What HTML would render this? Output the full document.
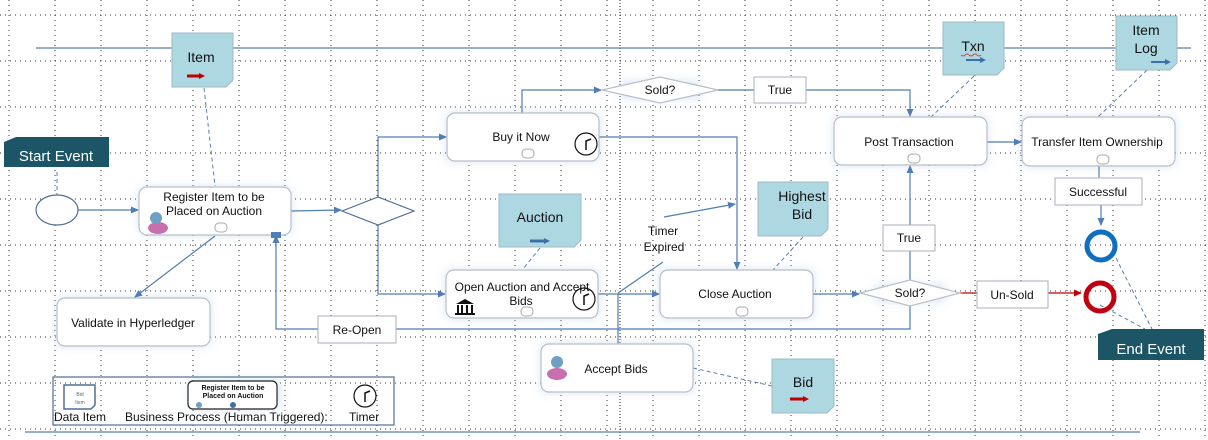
<!DOCTYPE html>
<html><head><meta charset="utf-8"><style>
html,body{margin:0;padding:0;background:#fff}
svg{display:block}
text{font-family:"Liberation Sans",sans-serif;fill:#111}
</style></head><body>
<svg width="1208" height="440" viewBox="0 0 1208 440" xmlns="http://www.w3.org/2000/svg">
<defs>
<filter id="glow" x="-20%" y="-40%" width="140%" height="180%"><feGaussianBlur stdDeviation="5"/></filter>
<marker id="ar" markerWidth="8" markerHeight="8" refX="7" refY="4" orient="auto" markerUnits="userSpaceOnUse"><path d="M0,0.5 L8,4 L0,7.5 z" fill="#4f7db5"/></marker>
<marker id="arr" markerWidth="8" markerHeight="8" refX="7" refY="4" orient="auto" markerUnits="userSpaceOnUse"><path d="M0,0.5 L8,4 L0,7.5 z" fill="#c00000"/></marker>
<marker id="nr" markerWidth="6" markerHeight="6" refX="3" refY="3" orient="auto" markerUnits="userSpaceOnUse"><path d="M0,0 L6,3 L0,6 z" fill="#c00000"/></marker>
<marker id="nb" markerWidth="6" markerHeight="6" refX="3" refY="3" orient="auto" markerUnits="userSpaceOnUse"><path d="M0,0 L6,3 L0,6 z" fill="#3e6fa8"/></marker>
</defs>
<g stroke="#333" stroke-width="1" stroke-dasharray="1 4">
<line x1="9" y1="0" x2="9" y2="440"/><line x1="55" y1="0" x2="55" y2="440"/><line x1="101" y1="0" x2="101" y2="440"/><line x1="147" y1="0" x2="147" y2="440"/><line x1="193" y1="0" x2="193" y2="440"/><line x1="239" y1="0" x2="239" y2="440"/><line x1="285" y1="0" x2="285" y2="440"/><line x1="331" y1="0" x2="331" y2="440"/><line x1="377" y1="0" x2="377" y2="440"/><line x1="423" y1="0" x2="423" y2="440"/><line x1="469" y1="0" x2="469" y2="440"/><line x1="515" y1="0" x2="515" y2="440"/><line x1="561" y1="0" x2="561" y2="440"/><line x1="607" y1="0" x2="607" y2="440"/><line x1="653" y1="0" x2="653" y2="440"/><line x1="699" y1="0" x2="699" y2="440"/><line x1="745" y1="0" x2="745" y2="440"/><line x1="791" y1="0" x2="791" y2="440"/><line x1="837" y1="0" x2="837" y2="440"/><line x1="883" y1="0" x2="883" y2="440"/><line x1="929" y1="0" x2="929" y2="440"/><line x1="975" y1="0" x2="975" y2="440"/><line x1="1021" y1="0" x2="1021" y2="440"/><line x1="1067" y1="0" x2="1067" y2="440"/><line x1="1113" y1="0" x2="1113" y2="440"/><line x1="1159" y1="0" x2="1159" y2="440"/><line x1="1205" y1="0" x2="1205" y2="440"/>
<line x1="0" y1="15" x2="1208" y2="15"/><line x1="0" y1="61" x2="1208" y2="61"/><line x1="0" y1="107" x2="1208" y2="107"/><line x1="0" y1="153" x2="1208" y2="153"/><line x1="0" y1="199" x2="1208" y2="199"/><line x1="0" y1="245" x2="1208" y2="245"/><line x1="0" y1="291" x2="1208" y2="291"/><line x1="0" y1="337" x2="1208" y2="337"/><line x1="0" y1="383" x2="1208" y2="383"/><line x1="0" y1="429" x2="1208" y2="429"/>
</g>
<line x1="620" y1="0" x2="620" y2="440" stroke="#222" stroke-dasharray="1 2"/>

<g stroke="#5b7fae" stroke-width="1.3" fill="none">
<line x1="36" y1="48" x2="1191" y2="48"/>
<line x1="25" y1="432" x2="1140" y2="432"/>
</g>

<g fill="#bcd3ee" opacity="0.6" filter="url(#glow)">
<rect x="139" y="187" width="152" height="48" rx="8"/>
<rect x="447" y="113" width="152" height="48"/>
<rect x="446" y="270" width="152" height="48"/>
<rect x="660" y="270" width="153" height="48"/>
<rect x="541" y="344" width="152" height="48"/>
<rect x="57" y="298" width="153" height="48"/>
<rect x="834" y="117" width="153" height="48"/>
<rect x="1022" y="117" width="153" height="49"/>
<rect x="620" y="82" width="80" height="16"/>
<rect x="875" y="285" width="70" height="16"/>
<rect x="190" y="380" width="90" height="28"/>
</g>

<g stroke="#4f7db5" stroke-width="1.2" fill="none">
<line x1="78" y1="210" x2="138" y2="210" marker-end="url(#ar)"/>
<line x1="291" y1="211" x2="341" y2="210" marker-end="url(#ar)"/>
<polyline points="378,197 378,137 446,137" marker-end="url(#ar)"/>
<polyline points="378,225 378,294 445,294" marker-end="url(#ar)"/>
<line x1="215" y1="236" x2="135" y2="297" marker-end="url(#ar)"/>
<polyline points="522,113 522,90 601,90" marker-end="url(#ar)"/>
<polyline points="718,90 754,90"/>
<polyline points="806,90 910,90 910,116" marker-end="url(#ar)"/>
<polyline points="599,137 737,137 737,269" marker-end="url(#ar)"/>
<line x1="598" y1="294" x2="659" y2="294" marker-end="url(#ar)"/>
<line x1="664" y1="217" x2="735" y2="204" marker-end="url(#ar)"/>
<line x1="663" y1="262" x2="618" y2="293"/>
<line x1="618" y1="294" x2="618" y2="344"/>
<line x1="813" y1="294" x2="859" y2="294" marker-end="url(#ar)"/>
<polyline points="910,280 910,251"/>
<line x1="910" y1="225" x2="910" y2="166" marker-end="url(#ar)"/>
<line x1="987" y1="142" x2="1021" y2="142" marker-end="url(#ar)"/>
<line x1="1099" y1="166" x2="1099" y2="178"/>
<line x1="1101" y1="205" x2="1101" y2="225" marker-end="url(#ar)"/>
<polyline points="910,306 910,329 396,329"/>
<polyline points="318,329 276,329 276,236" marker-end="url(#ar)"/>
</g>
<g stroke="#c00000" stroke-width="1.2" fill="none">
<line x1="960" y1="293" x2="977" y2="293"/>
<line x1="1048" y1="293" x2="1081" y2="293" marker-end="url(#arr)"/>
</g>
<g stroke="#5b7fae" stroke-width="1" fill="none" stroke-dasharray="4 3">
<line x1="57" y1="172" x2="57" y2="195"/>
<line x1="204" y1="88" x2="215" y2="186"/>
<line x1="540" y1="248" x2="523" y2="269"/>
<line x1="803" y1="237" x2="773" y2="270"/>
<line x1="693" y1="368" x2="772" y2="386"/>
<line x1="974" y1="76" x2="931" y2="117"/>
<line x1="1147" y1="70" x2="1098" y2="117"/>
<line x1="1116" y1="258" x2="1152" y2="329"/>
<line x1="1100" y1="305" x2="1145" y2="329"/>
</g>

<g fill="#fff" stroke="#b8bfc8" stroke-width="1.2">
<rect x="139" y="187" width="152" height="48" rx="8"/>
<rect x="447" y="113" width="152" height="48" rx="8"/>
<rect x="446" y="270" width="152" height="48" rx="8"/>
<rect x="660" y="270" width="153" height="48" rx="8"/>
<rect x="541" y="344" width="152" height="48" rx="8"/>
<rect x="57" y="298" width="153" height="48" rx="8"/>
<rect x="834" y="117" width="153" height="48" rx="8"/>
<rect x="1022" y="117" width="153" height="49" rx="8"/>
</g>
<g fill="#fff" stroke="#aaa">
<rect x="215" y="223" width="12" height="9" rx="4"/>
<rect x="522" y="149" width="12" height="9" rx="4"/>
<rect x="521" y="307" width="12" height="9" rx="4"/>
<rect x="736" y="307" width="12" height="9" rx="4"/>
<rect x="908" y="154" width="12" height="9" rx="4"/>
<rect x="1097" y="155" width="12" height="9" rx="4"/>
</g>
<rect x="271" y="232" width="10" height="6" fill="#4f7db5"/>
<g fill="#fff" stroke="#111" stroke-width="1.2">
<circle cx="586" cy="144" r="11"/><circle cx="584" cy="299" r="11"/>
<circle cx="365" cy="396" r="11"/>
</g>
<g stroke="#111" stroke-width="1.5" fill="none">
<polyline points="586,150 586,141 591,139"/><polyline points="584,305 584,296 589,294"/><polyline points="365,402 365,393 370,391"/>
</g>
<g>
<ellipse cx="158" cy="228" rx="10" ry="6" fill="#c86fae"/><circle cx="156" cy="218" r="6" fill="#6f9fc4"/>
<ellipse cx="557" cy="374" rx="10" ry="6" fill="#c86fae"/><circle cx="557" cy="362" r="6" fill="#6f9fc4"/>
</g>
<g fill="#111"><path d="M456,304 L465,299 L474,304 z"/><rect x="457" y="305" width="2" height="8"/><rect x="461" y="305" width="2" height="8"/><rect x="466" y="305" width="2" height="8"/><rect x="471" y="305" width="2" height="8"/><rect x="455" y="313" width="20" height="2"/></g>

<g fill="#fff" stroke="#4f6f95" stroke-width="1.2">
<polygon points="342,211 378,197 414,211 378,225"/>
</g>
<g fill="#fff" stroke="#b8bfc8" stroke-width="1.2">
<polygon points="602,90 660,77 718,90 660,103"/>
<polygon points="860,293 910,280 960,293 910,306"/>
</g>
<ellipse cx="57" cy="210" rx="21" ry="15" fill="#fff" stroke="#4f6f95" stroke-width="1.2"/>
<circle cx="1101" cy="246" r="14" fill="none" stroke="#0d6fc0" stroke-width="5"/>
<circle cx="1100" cy="297" r="14" fill="none" stroke="#c00010" stroke-width="5"/>

<g fill="#fff" stroke="#aab2bd">
<rect x="754" y="77" width="52" height="26"/>
<rect x="883" y="225" width="52" height="26"/>
<rect x="977" y="281" width="71" height="27"/>
<rect x="1055" y="178" width="87" height="27"/>
<rect x="318" y="316" width="78" height="27"/>
</g>

<g fill="#add8e2" stroke="#9fb8c4">
<path d="M172,33 H233 V80 L226,87 H172 z"/>
<path d="M499,194 H581 V240 L574,247 H499 z"/>
<path d="M758,182 H828 V229 L821,236 H758 z"/>
<path d="M772,359 H834 V406 L827,413 H772 z"/>
<path d="M943,22 H1004 V68 L997,75 H943 z"/>
<path d="M1116,16 H1177 V63 L1170,70 H1116 z"/>
</g>
<g stroke-width="3" fill="none">
<line x1="187" y1="76" x2="202" y2="76" stroke="#c00000" marker-end="url(#nr)"/>
<line x1="530" y1="241" x2="547" y2="241" stroke="#3e6fa8" marker-end="url(#nb)"/>
<line x1="790" y1="399" x2="806" y2="399" stroke="#c00000" marker-end="url(#nr)"/>
<line x1="966" y1="60" x2="983" y2="60" stroke="#3e6fa8" stroke-width="2" marker-end="url(#nb)"/>
<line x1="1151" y1="62" x2="1168" y2="62" stroke="#3e6fa8" stroke-width="2" marker-end="url(#nb)"/>
</g>

<path d="M4,142 L16,137 H109 V167 H4 z" fill="#1b5566"/>
<path d="M1098,334 L1112,329 H1204 V360 H1098 z" fill="#1b5566"/>
<text x="56" y="161" font-size="15" text-anchor="middle" style="fill:#fff">Start Event</text>
<text x="1151" y="354" font-size="15" text-anchor="middle" style="fill:#fff">End Event</text>

<g font-size="12" text-anchor="middle">
<text x="214" y="201">Register Item to be</text>
<text x="214" y="215">Placed on Auction</text>
<text x="521" y="141">Buy it Now</text>
<text x="522" y="291">Open Auction and Accept</text>
<text x="521" y="305">Bids</text>
<text x="735" y="298">Close Auction</text>
<text x="616" y="373">Accept Bids</text>
<text x="133" y="327">Validate in Hyperledger</text>
<text x="909" y="146">Post Transaction</text>
<text x="1097" y="146">Transfer Item Ownership</text>
<text x="660" y="94">Sold?</text>
<text x="910" y="297">Sold?</text>
<text x="780" y="94">True</text>
<text x="909" y="242">True</text>
<text x="1012" y="299">Un-Sold</text>
<text x="1098" y="196">Successful</text>
<text x="357" y="334">Re-Open</text>
<text x="663" y="235">Timer</text>
<text x="664" y="251">Expired</text>
</g>
<g font-size="14" text-anchor="middle">
<text x="201" y="62">Item</text>
<text x="540" y="222">Auction</text>
<text x="802" y="201">Highest</text>
<text x="802" y="219">Bid</text>
<text x="803" y="387">Bid</text>
<text x="973" y="51">Txn</text>
<text x="1146" y="35">Item</text>
<text x="1146" y="53">Log</text>
</g>
<path d="M961,55 q2,2 4,0 t4,0 t4,0 t4,0 t4,0" stroke="#d02020" fill="none" stroke-width="0.8"/>

<rect x="53" y="377" width="341" height="48" fill="none" stroke="#4f6f95" stroke-width="1.2"/>
<path d="M64,385 H95 V405 L91,409 H64 z" fill="#fff" stroke="#4f6f95" stroke-width="1.5"/>
<text x="80" y="396" font-size="5" text-anchor="middle" style="fill:#666">Bid</text>
<text x="80" y="404" font-size="5" text-anchor="middle" style="fill:#666">Item</text>
<rect x="188" y="381" width="89" height="28" rx="5" fill="#fff" stroke="#222" stroke-width="1.2"/>
<text x="233" y="390" font-size="7" font-weight="bold" text-anchor="middle">Register Item to be</text>
<text x="233" y="398" font-size="7" font-weight="bold" text-anchor="middle">Placed on Auction</text>
<circle cx="199" cy="405" r="3" fill="#6f9fc4"/>
<circle cx="233" cy="405" r="3" fill="#3e6fa8"/>
<g font-size="12">
<text x="54" y="421">Data Item</text>
<text x="125" y="421">Business Process (Human Triggered):</text>
<text x="349" y="421">Timer</text>
</g>
</svg>
</body></html>
